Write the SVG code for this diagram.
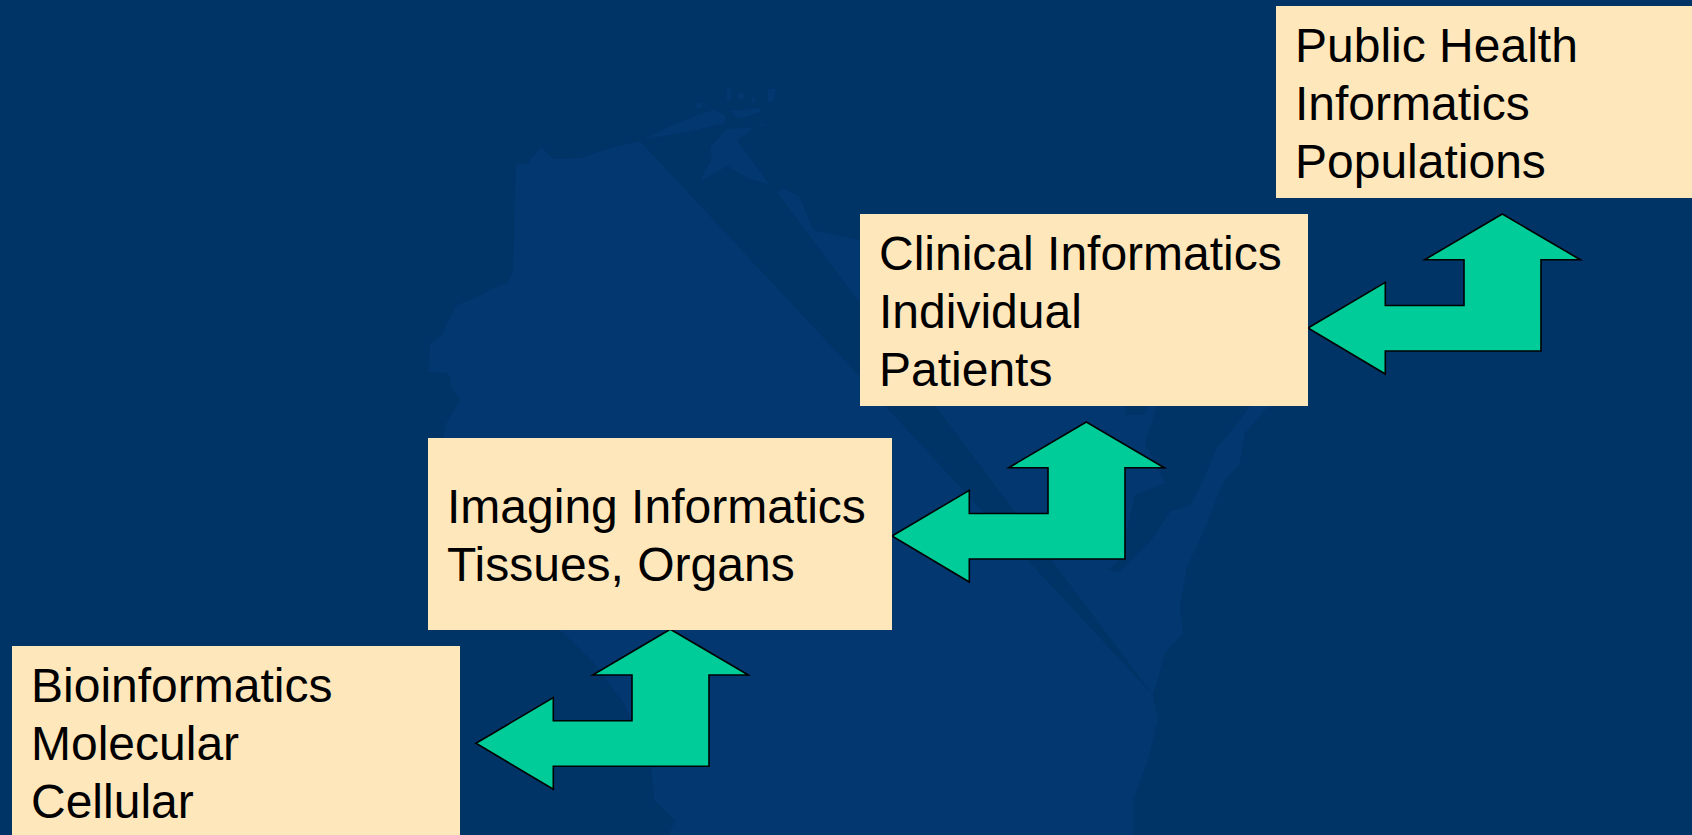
<svg xmlns="http://www.w3.org/2000/svg" width="1692" height="835" viewBox="0 0 1692 835">
<defs>
<polygon id="arrow" points="0,0 77.3,-45.7 77.3,-22.5 156,-22.5 156,-68.3 116.7,-68.3 194.3,-114 272.3,-68.3 233,-68.3 233,23 77.3,23 77.3,46"/>
</defs>
<style>
.box{fill:#FFE7BC}
.label{font-family:"Liberation Sans",Arial,sans-serif;font-size:48px;fill:#000}
.conn{fill:#00CC99;stroke:#000;stroke-width:1.6;stroke-linejoin:miter}
.lite{fill:#023770}
.dark{fill:#003366}
</style>
<rect width="1692" height="835" class="dark"/>
<g id="background-map">
<polygon class="lite" points="640,141 613,147 580,158 553,159 542,147 532,157 528,164 516,164 513,273 507,283 490,290 477,297 457,305 447,323 442,335 430,343 428,372 448,373 452,388 460,400 445,425 443,438 500,560 560,630 591,660 625,705 651,767 654,800 675,820 669,835 1133,835 1133,800 1147,763 1158,720 1153,695 1165,653 1183,633 1180,607 1187,567 1203,533 1223,483 1240,463 1245,433 1267,408 1300,400 1300,240 860,240 813,230 800,197 783,188 777,192"/>
<polygon class="dark" points="640,141 737,140 777,192 860,303 937,408 1153,695 887,408 860,377"/>
<polygon class="dark" points="1157,406 1145,443 1165,483 1135,495 1130,517 1117,563 1107,570 1120,572 1150,542 1170,512 1190,505 1197,493 1217,448 1240,420 1250,406"/>
<polygon class="dark" points="1125,406 1147,406 1145,415 1125,415"/>
<polygon class="lite" points="700,181 712,158 710,148 725,130 750,127 752,130 737,140 770,185 747,178 728,166"/>
<polygon class="lite" points="645,139 667,128 697,115 713,110 725,115 725,123 687,132"/>
<polygon class="lite" points="696,103 702,103 702,108 696,108"/>
<polygon class="lite" points="727,88 731,88 731,100 727,100"/>
<polygon class="lite" points="738,93 744,93 744,99 738,99"/>
<polygon class="lite" points="730,111 760,108 760,112 738,119"/>
<polygon class="lite" points="768,89 776,89 773,102 768,102"/>
<polygon class="lite" points="752,97 755,97 755,102 752,102"/>
<polygon class="lite" points="760,124 765,124 762,128"/>
</g>
<g id="connectors">
<use href="#arrow" class="conn" x="476" y="743.3"/>
<use href="#arrow" class="conn" x="892" y="536"/>
<use href="#arrow" class="conn" x="1308" y="328"/>
</g>
<g id="node-bioinformatics">
<rect class="box" x="12" y="646" width="448" height="189"/>
<text class="label" x="31" y="701.7">Bioinformatics</text>
<text class="label" x="31" y="759.7">Molecular</text>
<text class="label" x="31" y="817.7">Cellular</text>
</g>
<g id="node-imaging">
<rect class="box" x="428" y="438" width="464" height="192"/>
<text class="label" x="447" y="522.7">Imaging Informatics</text>
<text class="label" x="447" y="580.7">Tissues, Organs</text>
</g>
<g id="node-clinical">
<rect class="box" x="860" y="214" width="448" height="192"/>
<text class="label" x="879" y="269.5">Clinical Informatics</text>
<text class="label" x="879" y="327.5">Individual</text>
<text class="label" x="879" y="385.5">Patients</text>
</g>
<g id="node-public-health">
<rect class="box" x="1276" y="6" width="416" height="192"/>
<text class="label" x="1295" y="61.7">Public Health</text>
<text class="label" x="1295" y="119.7">Informatics</text>
<text class="label" x="1295" y="177.7">Populations</text>
</g>
</svg>
